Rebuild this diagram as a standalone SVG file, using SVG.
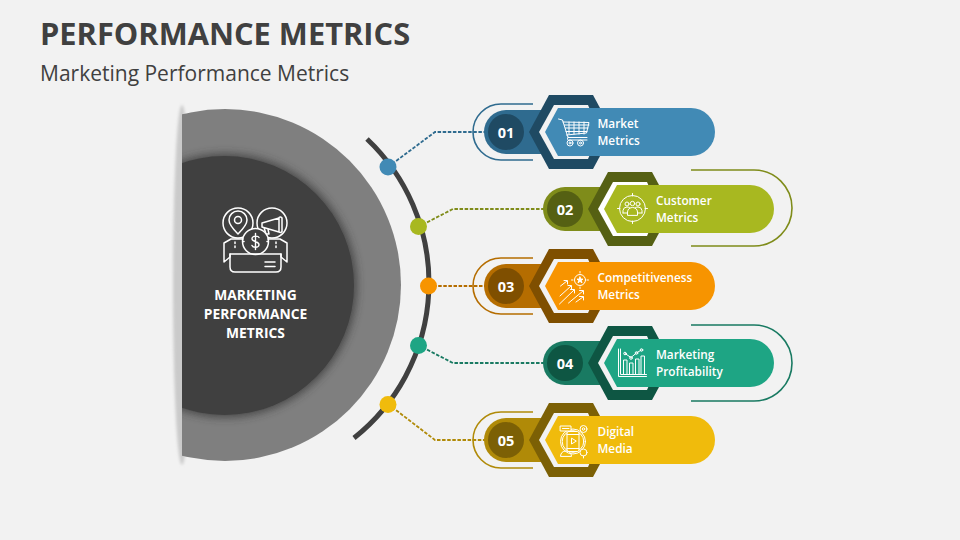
<svg xmlns="http://www.w3.org/2000/svg" xmlns:xlink="http://www.w3.org/1999/xlink" width="960" height="540" viewBox="0 0 960 540">
<style>
text{font-family:"Open Sans","Liberation Sans",sans-serif;fill:#fff}
.title{font-size:30.800px;font-weight:700;fill:#404040}
.sub{font-size:21px;fill:#404040}
.lab{font-size:11.800px;font-weight:600}
.num{font-size:14.500px;font-weight:700;text-anchor:middle}
.ctr{font-size:13.800px;font-weight:700;text-anchor:middle}
.ic{fill:none;stroke:#fff;stroke-width:1;stroke-linecap:round;stroke-linejoin:round}
.ic2{fill:none;stroke:#fff;stroke-width:1.500;stroke-linecap:round;stroke-linejoin:round}
.cn{fill:none;stroke-width:1.800;stroke-dasharray:3.500 1.600}
.ol{fill:none;stroke-width:1.600}
</style>
<defs>
<filter id="b2" filterUnits="userSpaceOnUse" x="150" y="80" width="60" height="410"><feGaussianBlur stdDeviation="1.800"/></filter>
<filter id="b5" x="-20%" y="-20%" width="140%" height="140%"><feGaussianBlur stdDeviation="4"/></filter>
<clipPath id="cut"><rect x="182" y="90" width="240" height="390"/></clipPath>
<path id="hex" d="M529 132L549 95H593L613 132L593 169H549Z"/>
<path id="hole" d="M539 132L554 105H588L600 132L588 159H554Z"/>
<path id="tail" d="M506 110H560V154H506A22 22 0 0 1 506 110Z"/>
<path id="pill" d="M545 132L558 108H691A24 24 0 0 1 691 156H558Z"/>
</defs>
<rect width="960" height="540" fill="#f2f2f2"/>
<text class="title" x="40" y="45">PERFORMANCE METRICS</text>
<text class="sub" x="40" y="80.500">Marketing Performance Metrics</text>

<g id="hub">
<ellipse cx="182" cy="285" rx="9" ry="180" fill="#cacaca" filter="url(#b2)"/>
<g clip-path="url(#cut)">
<circle cx="225" cy="285" r="176" fill="#7f7f7f"/>
<circle cx="225" cy="285.500" r="132" fill="#333" opacity=".7" filter="url(#b5)"/>
<circle cx="224.500" cy="285.500" r="129.500" fill="#404040"/>
</g>
<g class="ic2">
<circle cx="238" cy="223" r="15"/>
<circle cx="272" cy="223" r="15"/>
<path d="M238 234C232 228 229 224 229 220A9 9 0 0 1 247 220C247 224 244 228 238 234Z"/>
<circle cx="238" cy="220" r="3.500"/>
<path d="M262 223L279 218V232L262 227ZM279 217.500A2 2 0 0 1 282 218V231.500A2 2 0 0 1 279 232M264 227.500L266 234H269L268 229"/>
<circle cx="255.500" cy="241.500" r="13" fill="#404040"/>
<path d="M259 237.500C258 235.500 252.500 235.500 252 238.500C251.500 242 259.500 241 259 245C258.500 248 253 248 252 245.500M255.500 233.500V249.500" stroke-width="1.400"/>
<path d="M243 241.500H244M267 241.500H268"/>
<path d="M243 239H231L224 243V262L230 257V254H281V257L287 262V243L280 239H268"/>
<path d="M230 254V267Q230 272 235 272H276Q281 272 281 267V254"/>
<path d="M235 242V250M276 242V250" stroke-dasharray="1.500 2.500"/>
<path d="M265 262H275M265 266.500H275"/>
</g>
<text class="ctr" x="255.500" y="300">MARKETING</text>
<text class="ctr" x="255.500" y="319">PERFORMANCE</text>
<text class="ctr" x="255.500" y="338">METRICS</text>
</g>

<g id="connectors">
<path d="M367 139A198 198 0 0 1 354 438" fill="none" stroke="#404040" stroke-width="5"/>
<path class="cn" stroke="#2f6b8f" d="M388 167L435 132H486"/>
<path class="cn" stroke="#7f8c1a" d="M418 227L453 209H544"/>
<path class="cn" stroke="#b56d00" d="M428 286H486"/>
<path class="cn" stroke="#197a62" d="M418 345L453 363H544"/>
<path class="cn" stroke="#b08a08" d="M388 404L435 440H486"/>
<circle cx="388" cy="167" r="8.500" fill="#418ab5"/>
<circle cx="418.500" cy="226.500" r="8.500" fill="#a8b820"/>
<circle cx="428.500" cy="286" r="8.500" fill="#f79400"/>
<circle cx="418.500" cy="345.500" r="8.500" fill="#1ea584"/>
<circle cx="388" cy="404.500" r="8.500" fill="#f0bb0c"/>
</g>

<g id="node-1">
<path class="ol" stroke="#2f6b8f" d="M533 104H501A28 28 0 0 0 501 160H533"/>
<use href="#tail" fill="#2f6b8f"/>
<circle cx="506" cy="132" r="18" fill="#1f4a63"/>
<use href="#hex" fill="#1f4a63"/>
<use href="#hole" fill="#f2f2f2"/>
<use href="#pill" fill="#418ab5"/>
<text class="num" x="506" y="137.500">01</text>
<g class="ic">
<path d="M558.500 119L562.500 120L568 137.500H587M563 122L589 122.500L586.500 133L566.500 135M569.500 140H587"/>
<path d="M569 141Q566 139 568 137M565.500 128H588M566 131.500H587M569 122V134M574 122V134M579 122V134M584 122V134M564.500 125H589"/>
<circle cx="570" cy="143" r="3"/><circle cx="570" cy="143" r="1"/>
<circle cx="580.500" cy="143" r="3"/><circle cx="580.500" cy="143" r="1"/>
</g>
<text class="lab" x="597.500" y="128">Market</text>
<text class="lab" x="597.500" y="145">Metrics</text>
</g>

<g id="node-2">
<path class="ol" stroke="#7f8c1a" d="M691 170H754A38 38 0 0 1 754 246H691"/>
<use href="#tail" x="59" y="77" fill="#7f8c1a"/>
<circle cx="565" cy="209" r="18" fill="#556013"/>
<use href="#hex" x="59" y="77" fill="#556013"/>
<use href="#hole" x="59" y="77" fill="#fff"/>
<use href="#pill" x="59" y="77" fill="#a8b820"/>
<text class="num" x="565" y="214.500">02</text>
<g class="ic">
<circle cx="632.500" cy="208.500" r="13"/>
<path d="M632.500 193.500V196M632.500 221V223.500M617.500 208.500H620M645 208.500H647.500"/>
<circle cx="627" cy="204" r="2"/><circle cx="632.500" cy="203.500" r="2.200"/><circle cx="638" cy="204" r="2"/>
<path d="M623 213V210.500Q623.500 207 627 207Q629 207 630 208M642 213V210.500Q641.500 207 638 207Q636 207 635 208M627.500 215V212Q628 207.500 632.500 207.500Q637 207.500 637.500 212V215ZM623 213H627.500M637.500 213H642"/>
</g>
<text class="lab" x="656" y="205">Customer</text>
<text class="lab" x="656" y="222">Metrics</text>
</g>

<g id="node-3">
<path class="ol" stroke="#b56d00" d="M533 258H501A28 28 0 0 0 501 314H533"/>
<use href="#tail" y="154" fill="#b56d00"/>
<circle cx="506" cy="286" r="18" fill="#7f4f00"/>
<use href="#hex" y="154" fill="#7f4f00"/>
<use href="#hole" y="154" fill="#f2f2f2"/>
<use href="#pill" y="154" fill="#f79400"/>
<text class="num" x="506" y="291.500">03</text>
<g class="ic">
<circle cx="580" cy="280" r="5.500"/>
<path d="M580 277L580.900 279.100H583L581.300 280.500L582 282.800L580 281.400L578 282.800L578.700 280.500L577 279.100H579.100Z" fill="#fff"/>
<path d="M580 271.500V273M580 287V288.500M571.500 280H573M587 280H588.500"/>
<path d="M560.500 286L567 281M564 280.500H567.500V284M560 296L571 286M568 285.500H571.500V289M559.500 304L574 290M570.500 289.500H574.500V293M568.500 303L583 291M579.500 290.500H583.500V294M576 302L583 297M579.500 296.500H583.500V300"/>
</g>
<text class="lab" x="597.500" y="282">Competitiveness</text>
<text class="lab" x="597.500" y="299">Metrics</text>
</g>

<g id="node-4">
<path class="ol" stroke="#197a62" d="M691 325H754A38 38 0 0 1 754 401H691"/>
<use href="#tail" x="59" y="231" fill="#197a62"/>
<circle cx="565" cy="363" r="18" fill="#0e5643"/>
<use href="#hex" x="59" y="231" fill="#0e5643"/>
<use href="#hole" x="59" y="231" fill="#f2f2f2"/>
<use href="#pill" x="59" y="231" fill="#1ea584"/>
<text class="num" x="565" y="368.500">04</text>
<g class="ic">
<path d="M618.500 349V376.500H646.500M620.500 349V374.500H646.500"/>
<path d="M623.500 374V360H627V374M629.500 374V363H633V374M635.500 374V359H639V374M641 374V356H644.500V374"/>
<path d="M625 353.500L631 357.500L637 352.500L641.500 350"/>
<circle cx="625" cy="353.500" r="1.300"/><circle cx="631" cy="358" r="1.300"/><circle cx="636.500" cy="353" r="1.300"/><circle cx="641.500" cy="350" r="1.300"/>
</g>
<text class="lab" x="656" y="359">Marketing</text>
<text class="lab" x="656" y="376">Profitability</text>
</g>

<g id="node-5">
<path class="ol" stroke="#b08a08" d="M533 412H501A28 28 0 0 0 501 468H533"/>
<use href="#tail" y="308" fill="#b08a08"/>
<circle cx="506" cy="440" r="18" fill="#7c6005"/>
<use href="#hex" y="308" fill="#7c6005"/>
<use href="#hole" y="308" fill="#f2f2f2"/>
<use href="#pill" y="308" fill="#f0bb0c"/>
<text class="num" x="506" y="445.500">05</text>
<g class="ic">
<circle cx="573" cy="441.500" r="12.500"/>
<circle cx="573" cy="441.500" r="10.800"/>
<rect x="567" y="431.500" width="12" height="20" rx="1.500" fill="#f0bb0c"/>
<path d="M567 434.500H579M567 448.500H579M571.500 438.500V444L576 441.300Z"/>
<path d="M560.500 426H571V431H560.500ZM562.500 428.500H569" fill="#f0bb0c"/>
<circle cx="583.500" cy="429" r="3.500" fill="#f0bb0c"/><circle cx="583.500" cy="429" r="1.200"/>
<circle cx="583.500" cy="452.500" r="3.500" fill="#f0bb0c"/>
<path d="M560.500 456Q561 451 566 451Q571 451 571.500 456ZM583.500 456V458"/>
</g>
<text class="lab" x="597.500" y="436">Digital</text>
<text class="lab" x="597.500" y="453">Media</text>
</g>
</svg>
